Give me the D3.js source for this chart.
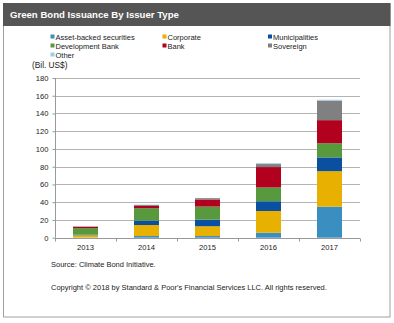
<!DOCTYPE html>
<html><head><meta charset="utf-8">
<script src="https://cdn.jsdelivr.net/npm/d3@7"></script>
<style>body{margin:0;background:#fff}svg{display:block;font-family:"Liberation Sans",Arial,sans-serif}</style>
</head><body><svg id="c" width="394" height="323"></svg>
<script>
const years = ["2013","2014","2015","2016","2017"];
const seriesNames = ["Asset-backed securities","Corporate","Municipalities","Development Bank","Bank","Sovereign","Other"];
const colors = ["#3a8fc0","#e8b000","#0a4fa0","#58993e","#b2001f","#808080","#9dcbea"];
const absV  = [0.3, 1.9, 1.9, 5.6, 35];
const corpV = [2.5, 12.4, 11, 24.5, 40];
const muniV = [0.6, 5, 7.5, 11, 15.5];
const devV  = [7.4, 14, 14.7, 15.5, 16];
const bankV = [1.4, 2.6, 8, 23, 26];
const sovV  = [0.5, 1.1, 1.5, 3.4, 22];
const othV  = [0, 0.2, 0.2, 1, 1];
const yTicks = [0,20,40,60,80,100,120,140,160,180];
const title = "Green Bond Issuance By Issuer Type";
const unitLabel = "(Bil. US$)";
const source = "Source: Climate  Bond Initiative.";
const copyright = "Copyright \u00A9 2018 by Standard & Poor's Financial Services LLC. All rights reserved.";

const valuesBySeries = [absV,corpV,muniV,devV,bankV,sovV,othV];
const table = years.map((y,i)=>{const o={year:y};seriesNames.forEach((s,j)=>o[s]=valuesBySeries[j][i]);return o;});
const stacked = d3.stack().keys(seriesNames)(table);

const svg = d3.select("#c");
// frame
svg.append("rect").attr("x",3.5).attr("y",3.5).attr("width",386.5).attr("height",313.5).attr("fill","#fff").attr("stroke","#a0a0a0").attr("stroke-width",1);
svg.append("rect").attr("x",3).attr("y",3).attr("width",387.5).attr("height",23).attr("fill","#555555");
svg.append("text").attr("x",10).attr("y",18.3).attr("fill","#fff").attr("font-weight","bold").attr("font-size",9.6).text(title);

// legend
const legPos = [[50.5,37],[162.5,37],[268,37],[50.5,46],[162.5,46],[268,46],[50.5,55]];
const lg = svg.append("g");
seriesNames.forEach((s,i)=>{
  const g = lg.append("g").attr("transform",`translate(${legPos[i][0]},${legPos[i][1]})`);
  g.append("rect").attr("x",0).attr("y",-2.5).attr("width",4).attr("height",4).attr("fill",colors[i]);
  g.append("text").attr("x",5).attr("y",2.8).attr("font-size",7.5).attr("fill","#222").text(s);
});
svg.append("text").attr("x",32).attr("y",67.5).attr("font-size",8.3).attr("fill","#222").text(unitLabel);

const x = d3.scaleBand().domain(years).range([55,360]).paddingInner(0.59).paddingOuter(0.295);
const y = d3.scaleLinear().domain([0,180]).range([237.7,78]);

// grid
svg.append("g").selectAll("line").data(yTicks.filter(d=>d>0)).join("line")
  .attr("x1",55).attr("x2",360).attr("y1",d=>Math.round(y(d))+0.5).attr("y2",d=>Math.round(y(d))+0.5)
  .attr("stroke","#b4b4b4").attr("stroke-width",1);

// bars
svg.append("g").selectAll("g").data(stacked).join("g").attr("fill",(d,i)=>colors[i])
  .selectAll("rect").data(d=>d).join("rect")
  .attr("x",d=>x(d.data.year)).attr("width",x.bandwidth())
  .attr("y",d=>y(d[1])).attr("height",d=>Math.max(0,y(d[0])-y(d[1])));

// y axis
const ya = svg.append("g").attr("transform","translate(55.5,0)")
  .call(d3.axisLeft(y).tickValues(yTicks).tickSize(3).tickPadding(4));
ya.select(".domain").attr("stroke","#999").attr("d","M0,"+y(180)+"V"+y(0));
ya.selectAll(".tick line").attr("stroke","#999");
ya.selectAll("text").attr("font-size",7.6).attr("fill","#222").attr("font-family","Liberation Sans, Arial, sans-serif");

// x axis
const xa = svg.append("g").attr("transform",`translate(0,${Math.round(y(0))+0.5})`);
xa.append("line").attr("x1",55).attr("x2",360).attr("stroke","#999");
const edges = [55].concat(years.slice(1).map(d=>x(d)-(x.step()-x.bandwidth())/2)).concat([360]);
xa.selectAll("line.tk").data(edges).join("line").attr("class","tk")
  .attr("x1",d=>Math.round(d)+0.5).attr("x2",d=>Math.round(d)+0.5).attr("y1",0).attr("y2",3).attr("stroke","#999");
xa.selectAll("text").data(years).join("text")
  .attr("x",d=>x(d)+x.bandwidth()/2).attr("y",11).attr("text-anchor","middle")
  .attr("font-size",7.6).attr("fill","#222").text(d=>d);

svg.append("text").attr("x",51).attr("y",267).attr("font-size",7.5).attr("fill","#222").text(source);
svg.append("text").attr("x",51).attr("y",289.5).attr("font-size",7.5).attr("fill","#222").text(copyright);
</script></body></html>
